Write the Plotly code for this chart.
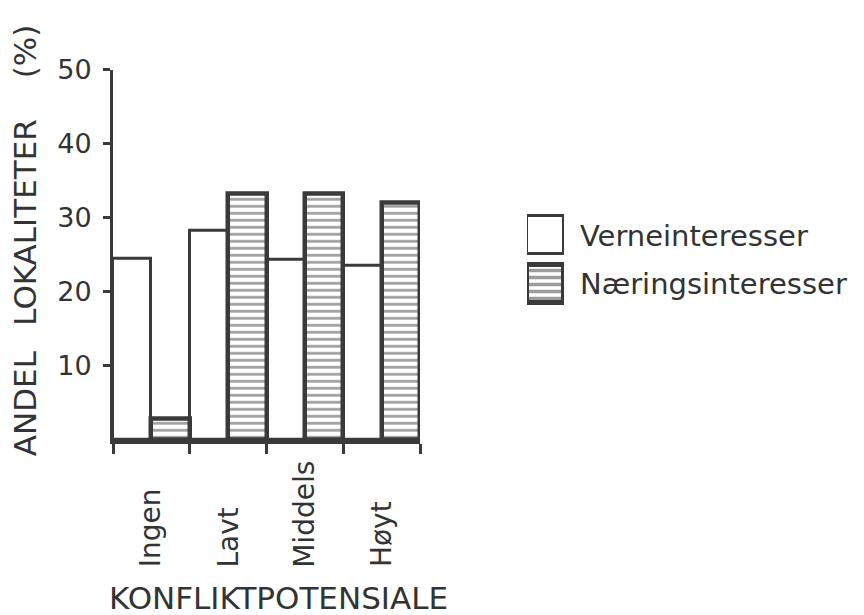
import plotly.graph_objects as go

categories = ["Ingen", "Lavt", "Middels", "Høyt"]
verne = [24.5, 28.3, 24.3, 23.5]
naering = [2.9, 33.3, 33.3, 32.0]
series_names = ["Verneinteresser", "Næringsinteresser"]
legend_key = [1, 1]
y_ticks = [10, 20, 30, 40, 50]

ink = "#3a3a3a"
text_col = "#333333"
font_family = "DejaVu Sans"

W, H = 864, 615
OFF = 8  # page offset of the plot div in the browser window


def sx(x):
    return (x - OFF) / W


def sy(y):
    return 1 - (y - OFF) / H


verne_marker = dict(color="white", line=dict(color=ink, width=3))
naering_marker = dict(color="white", line=dict(color=ink, width=4.5),
                      pattern=dict(shape="-", fgcolor=ink, bgcolor="white",
                                   size=7, solidity=0.38))

fig = go.Figure()
fig.add_trace(go.Bar(x=categories, y=verne, name=series_names[0],
                     marker=verne_marker, xaxis="x", yaxis="y"))
fig.add_trace(go.Bar(x=categories, y=naering, name=series_names[1],
                     marker=naering_marker, xaxis="x", yaxis="y"))

# legend key drawn as a tiny horizontal bar panel
fig.add_trace(go.Bar(x=[legend_key[0]], y=[series_names[0]], orientation="h",
                     marker=verne_marker, xaxis="x2", yaxis="y2",
                     offsetgroup="k", hoverinfo="skip"))
fig.add_trace(go.Bar(x=[legend_key[1]], y=[series_names[1]], orientation="h",
                     marker=dict(color="white", line=dict(color=ink, width=5),
                                 pattern=dict(shape="-", fgcolor=ink,
                                              bgcolor="white", size=7,
                                              solidity=0.5)),
                     xaxis="x2", yaxis="y2", offsetgroup="k",
                     hoverinfo="skip"))

annotations = []
for c in categories:
    annotations.append(dict(
        x=c, xref="x", y=sy(568), yref="paper", text=c, showarrow=False,
        textangle=-90, xanchor="center", yanchor="bottom",
        font=dict(family=font_family, size=28, color=text_col),
    ))
annotations.append(dict(
    x=sx(278), y=sy(597), xref="paper", yref="paper",
    text="KONFLIKTPOTENSIALE", showarrow=False,
    xanchor="center", yanchor="middle",
    font=dict(family=font_family, size=31, color=text_col),
))
annotations.append(dict(
    x=sx(25), y=sy(230), xref="paper", yref="paper",
    text="ANDEL\u2002 LOKALITETER\u2003 (%)", showarrow=False, textangle=-90,
    xanchor="center", yanchor="middle",
    font=dict(family=font_family, size=31, color=text_col),
))

fig.update_layout(
    width=W, height=H,
    margin=dict(l=0, r=0, t=0, b=0, pad=0),
    paper_bgcolor="white", plot_bgcolor="white",
    barmode="group", bargap=0, bargroupgap=0,
    font=dict(family=font_family, color=text_col),
    showlegend=False,
    annotations=annotations,
    xaxis=dict(
        domain=[sx(113), sx(420)], anchor="y",
        showticklabels=False, showline=True, linecolor=ink, linewidth=4,
        ticks="outside", tickson="boundaries", ticklen=10, tickwidth=3,
        tickcolor=ink, showgrid=False, zeroline=False, fixedrange=True,
    ),
    yaxis=dict(
        domain=[sy(435), sy(55)], anchor="x",
        range=[0, 50], tickvals=y_ticks, showline=True, linecolor=ink,
        linewidth=3, ticks="outside", ticklen=7, tickwidth=3, tickcolor=ink,
        showgrid=False, zeroline=False, ticklabelstandoff=6,
        tickfont=dict(family=font_family, size=27, color=text_col),
    ),
    xaxis2=dict(
        domain=[sx(527), sx(564)], anchor="y2", range=[0, 1],
        visible=False, fixedrange=True,
    ),
    yaxis2=dict(
        domain=[sy(300), sy(200)], anchor="x2", side="right",
        categoryorder="array", categoryarray=series_names,
        autorange="reversed", showline=False, showgrid=False,
        zeroline=False, ticks="", ticklabelstandoff=15,
        tickfont=dict(family=font_family, size=29, color=text_col),
    ),
)
fig.update_traces(selector=dict(yaxis="y2"), width=0.78)

fig.write_html("out.html")
